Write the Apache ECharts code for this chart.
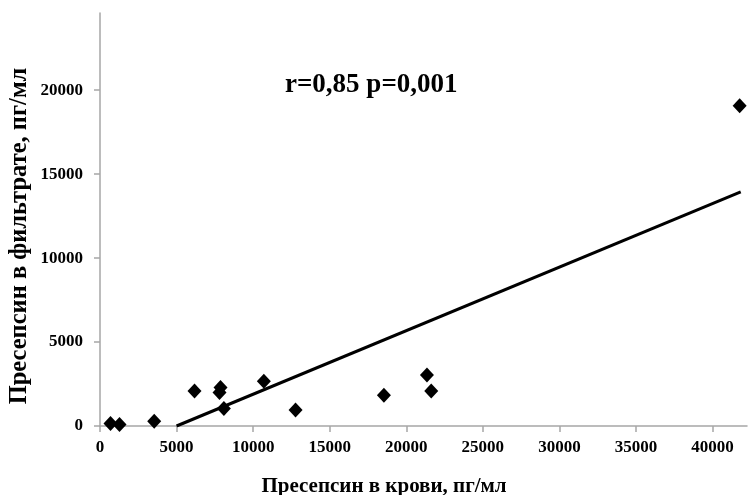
<!DOCTYPE html>
<html>
<head>
<meta charset="utf-8">
<script src="https://cdn.jsdelivr.net/npm/echarts@6/dist/echarts.min.js"></script>
<style>
  html, body { margin: 0; padding: 0; background: #fff; }
  #chart { width: 748px; height: 495px; }
</style>
</head>
<body>
<div id="chart"></div>
<script>
// Presepsin: blood vs. filtrate, pg/ml
const bloodValues    = [686, 1274, 3540, 6172, 7870, 7805, 8088, 10700, 12770, 18540, 21350, 21630, 41770];
const filtrateValues = [143, 83, 280, 2087, 2290, 1990, 1037, 2665, 954, 1830, 3040, 2087, 19080];

// Linear trend, drawn from where it crosses zero to the largest blood value
const trendX = [5000, 41840];
const trendY = [0, 13950];

const xTicks = [0, 5000, 10000, 15000, 20000, 25000, 30000, 35000, 40000];
const yTicks = [0, 5000, 10000, 15000, 20000];

const statText = 'r=0,85 p=0,001';
const xTitle = 'Пресепсин в крови, пг/мл';
const yTitle = 'Пресепсин в фильтрате, пг/мл';

const serif = '"Liberation Serif", "DejaVu Serif", serif';

const chart = echarts.init(document.getElementById('chart'), null, { renderer: 'canvas' });

const axisCommon = {
  axisLine: { show: true, onZero: false, lineStyle: { color: '#a6a6a6', width: 1.5 } },
  axisTick: { show: true, length: 6, lineStyle: { color: '#a6a6a6', width: 1.5 } },
  splitLine: { show: false },
  axisLabel: {
    color: '#000', fontFamily: serif, fontWeight: 'bold', fontSize: 17,
    formatter: v => String(v)
  }
};

chart.setOption({
  animation: false,
  backgroundColor: '#fff',
  grid: { left: 100, top: 13, right: 1, bottom: 69 },
  xAxis: {
    type: 'value',
    min: 0,
    max: 42250,
    ...axisCommon,
    axisTick: { ...axisCommon.axisTick, customValues: xTicks },
    axisLabel: { ...axisCommon.axisLabel, margin: 13, customValues: xTicks }
  },
  yAxis: {
    type: 'value',
    min: 0,
    max: 24600,
    ...axisCommon,
    axisTick: { ...axisCommon.axisTick, customValues: yTicks },
    axisLabel: { ...axisCommon.axisLabel, margin: 17, customValues: yTicks }
  },
  series: [
    {
      type: 'line',
      data: trendX.map((x, i) => [x, trendY[i]]),
      showSymbol: false,
      symbol: 'none',
      lineStyle: { color: '#000', width: 3 },
      z: 2
    },
    {
      type: 'scatter',
      data: bloodValues.map((x, i) => [x, filtrateValues[i]]),
      symbol: 'diamond',
      symbolSize: [14, 15],
      itemStyle: { color: '#000', opacity: 1 },
      z: 3
    }
  ],
  graphic: [
    {
      type: 'text',
      left: 285,
      top: 72,
      style: { text: statText, fill: '#000', font: 'bold 27px ' + serif }
    },
    {
      type: 'text',
      x: 384,
      y: 487,
      style: { text: xTitle, fill: '#000', font: 'bold 21px ' + serif, align: 'center', verticalAlign: 'middle' }
    },
    {
      type: 'text',
      x: 20,
      y: 236,
      rotation: Math.PI / 2,
      style: { text: yTitle, fill: '#000', font: 'bold 24.5px ' + serif, align: 'center', verticalAlign: 'middle' }
    }
  ]
});
</script>
</body>
</html>
